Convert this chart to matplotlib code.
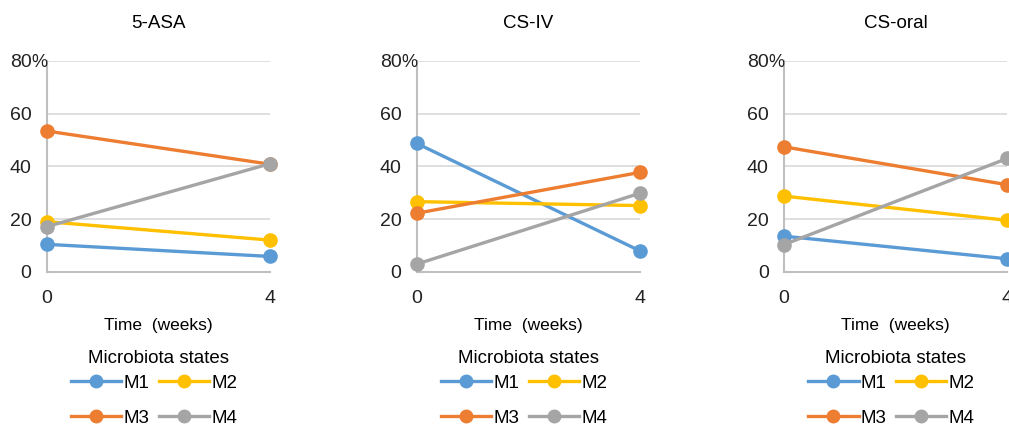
import matplotlib
matplotlib.use('Agg')
from matplotlib import pyplot as plt

plt.rcParams['font.family'] = ['Liberation Sans', 'DejaVu Sans']

# data
panels = ['5-ASA', 'CS-IV', 'CS-oral']
weeks = [0, 4]
states = ['M1', 'M2', 'M3', 'M4']
m1 = [[10.4, 5.8], [48.7, 7.9], [13.5, 4.9]]
m2 = [[19.0, 12.0], [26.6, 25.1], [28.7, 19.5]]
m3 = [[53.4, 40.8], [22.2, 37.7], [47.4, 33.0]]
m4 = [[17.1, 41.0], [2.9, 29.8], [10.3, 43.0]]
yticks = [0, 20, 40, 60, 80]

colors = ['#5B9BD5', '#FFC000', '#ED7D31', '#A5A5A5']
series = [m1, m2, m3, m4]

fig = plt.figure(figsize=(10.09, 4.32), dpi=100)
lefts = [0.0463, 0.413, 0.777]
W = 0.2213

for i, name in enumerate(panels):
    ax = fig.add_axes([lefts[i], 0.371, W, 0.488])
    lines = []
    for s, lab, c in zip(series, states, colors):
        l, = ax.plot(weeks, s[i], color=c, lw=2.4, marker='o', ms=9.5,
                     label=lab, clip_on=False, zorder=3)
        lines.append(l)
    ax.set_xlim(0, 4)
    ax.set_ylim(0, 80)
    ax.set_xticks(weeks)
    ax.set_yticks(yticks)
    ax.set_yticklabels([str(v) for v in yticks])
    ax.tick_params(length=0, labelsize=14, colors='#222222')
    ax.tick_params(axis='y', pad=11)
    ax.tick_params(axis='x', pad=13.5)
    ax.grid(axis='y', color='#d9d9d9', lw=1.2)
    ax.set_axisbelow(True)
    for sp in ['top', 'right']:
        ax.spines[sp].set_visible(False)
    ax.spines['left'].set_color('#bfbfbf')
    ax.spines['bottom'].set_color('#bfbfbf')
    ax.spines['left'].set_linewidth(1.5)
    ax.spines['bottom'].set_linewidth(1.5)
    ax.annotate('%', xy=(0, 80), xytext=(-11, 0), textcoords='offset points',
                ha='left', va='center_baseline', fontsize=13, color='#222222')
    ax.set_title(name, fontsize=13.5, pad=24)
    ax.text(0.5, -0.256, 'Time  (weeks)', transform=ax.transAxes,
            ha='center', va='center', fontsize=12.5)
    ax.text(0.5, -0.413, 'Microbiota states', transform=ax.transAxes,
            ha='center', va='center', fontsize=13.5)
    # row-wise order: M1 M2 / M3 M4
    order = [0, 2, 1, 3]
    leg = ax.legend([lines[k] for k in order], [states[k] for k in order],
                    loc='center', bbox_to_anchor=(0.48, -0.613), ncol=2,
                    frameon=False, fontsize=13.5, handlelength=2.7,
                    handletextpad=0.1, columnspacing=0.5, labelspacing=0.95,
                    numpoints=1)
    for h in leg.get_lines():
        h.set_markersize(9)

plt.savefig('out.png', dpi=100)
plt.close('all')
